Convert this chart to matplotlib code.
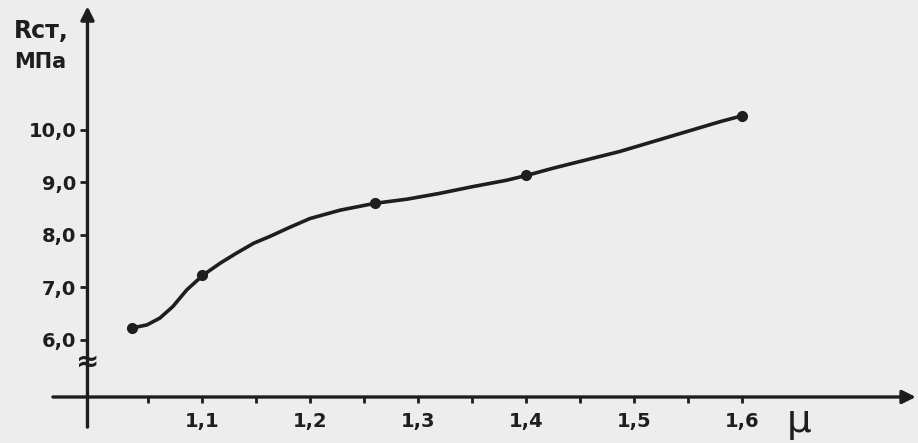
import matplotlib.pyplot as plt
from matplotlib.ticker import FuncFormatter

# measured points (markers) on the curve
mu_pts = [1.035, 1.10, 1.26, 1.40, 1.60]
r_pts = [6.22, 7.23, 8.60, 9.14, 10.27]

# the drawn curve
mu_curve = [1.035, 1.049, 1.061, 1.073, 1.086, 1.101, 1.117, 1.132, 1.148,
            1.163, 1.181, 1.200, 1.228, 1.260, 1.290, 1.320, 1.351, 1.382,
            1.402, 1.425, 1.456, 1.487, 1.518, 1.549, 1.580, 1.600]
r_curve = [6.22, 6.28, 6.41, 6.63, 6.95, 7.23, 7.46, 7.65, 7.84,
           7.97, 8.14, 8.31, 8.47, 8.60, 8.68, 8.79, 8.92, 9.04,
           9.14, 9.27, 9.43, 9.59, 9.78, 9.97, 10.16, 10.27]

x_ticks = [1.1, 1.2, 1.3, 1.4, 1.5, 1.6]
x_minor = [1.05, 1.15, 1.25, 1.35, 1.45, 1.55]
y_ticks = [6.0, 7.0, 8.0, 9.0, 10.0]

ink = '#1e1e1e'
paper = '#ededed'
narrow = ['Liberation Sans Narrow', 'DejaVu Sans']

fig = plt.figure(figsize=(9.18, 4.43), dpi=100, facecolor=paper)
ax = fig.add_axes([0, 0, 1, 1], facecolor=paper)
ax.set_xlim(0.913, 1.763)
ax.set_ylim(4.027, 12.48)

x0 = 0.994   # where the y axis stands
y0 = 4.905   # where the mu axis stands

for s in ['top', 'right']:
    ax.spines[s].set_visible(False)
ax.spines['left'].set_position(('data', x0))
ax.spines['bottom'].set_position(('data', y0))
for s in ['left', 'bottom']:
    ax.spines[s].set_color('none')

# axis lines with arrow heads
ax.annotate('', xy=(x0, 12.36), xytext=(x0, 4.33),
            arrowprops=dict(arrowstyle='-|>', lw=2.4, color=ink, mutation_scale=20,
                            shrinkA=0, shrinkB=0))
ax.annotate('', xy=(1.761, y0), xytext=(0.962, y0),
            arrowprops=dict(arrowstyle='-|>', lw=2.4, color=ink, mutation_scale=20,
                            shrinkA=0, shrinkB=0))

fmt = FuncFormatter(lambda v, p: f'{v:.1f}'.replace('.', ','))
ax.set_xticks(x_ticks)
ax.set_xticks(x_minor, minor=True)
ax.set_yticks(y_ticks)
ax.xaxis.set_major_formatter(fmt)
ax.yaxis.set_major_formatter(fmt)
ax.tick_params(axis='x', which='both', direction='out', length=4, width=2,
               color=ink, pad=7, labelsize=14, labelcolor=ink)
ax.tick_params(axis='y', direction='out', length=5, width=2,
               color=ink, pad=3, labelsize=14, labelcolor=ink)
for lab in ax.get_xticklabels() + ax.get_yticklabels():
    lab.set_fontweight('bold')
    lab.set_family(narrow)

# the curve and its points
ax.plot(mu_curve, r_curve, color=ink, lw=2.6, solid_capstyle='round',
        solid_joinstyle='round')
ax.plot(mu_pts, r_pts, 'o', color=ink, ms=7)

# axis break on the y axis
ax.text(x0, 5.57, '≈', ha='center', va='center', fontsize=20,
        fontweight='bold', color=ink)

# axis names
ax.text(0.926, 11.88, 'Rст,', fontsize=17, fontweight='bold', color=ink,
        ha='left', va='center', family=narrow)
ax.text(0.926, 11.3, 'МПа', fontsize=15, fontweight='bold', color=ink,
        ha='left', va='center', family=narrow)
ax.text(1.653, 4.44, 'μ', fontsize=28, color=ink, ha='center', va='center')

fig.savefig('out.png', dpi=100, facecolor=paper)
